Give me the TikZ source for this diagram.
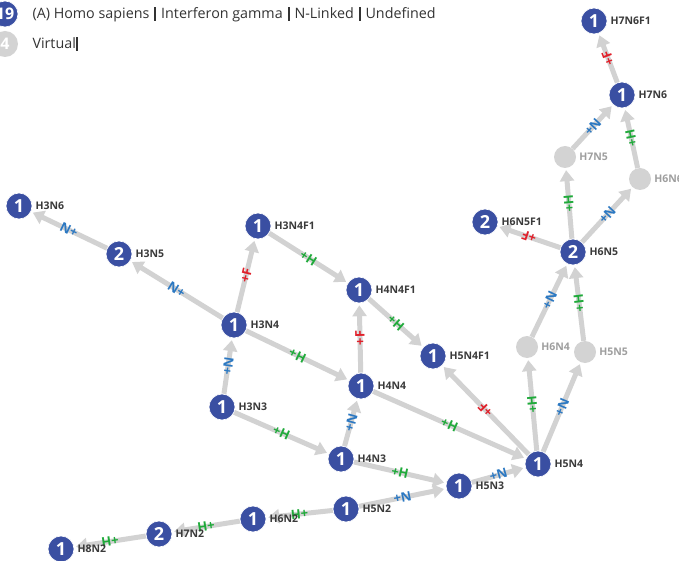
\documentclass[tikz,border=0pt]{standalone}
\usepackage{fontspec}
\setmainfont{Open Sans}
\usetikzlibrary{arrows.meta,backgrounds}

\definecolor{glyblue}{HTML}{3A4FA2}
\definecolor{virtgray}{HTML}{D3D3D3}
\definecolor{edgegray}{HTML}{D2D2D2}
\definecolor{addN}{HTML}{2B78C2}
\definecolor{addH}{HTML}{1FAA3A}
\definecolor{addF}{HTML}{E0202A}
\definecolor{namegray}{HTML}{3A3A3A}
\definecolor{legtext}{HTML}{333333}

\newcommand{\legbar}{\hspace{0.35em}\rule[-2.5pt]{1.8pt}{14pt}\hspace{0.35em}}

\tikzset{
  glycan/.style={circle, fill=glyblue, draw=white, line width=0.6pt, minimum size=26pt, inner sep=0pt,
    text=white, font=\fontsize{18}{18}\selectfont\bfseries},
  virtual/.style={circle, fill=virtgray, minimum size=22pt, inner sep=0pt},
  gname/.style={text=namegray, font=\fontsize{10.5}{12}\selectfont\bfseries, inner sep=1pt},
  vname/.style={gname, text=black!38},
  link/.style={edgegray, line width=5pt, -{Triangle[length=11pt,width=14pt]}, shorten >=2pt},
  mono/.style={sloped, allow upside down, midway, inner sep=0pt, font=\fontsize{13}{13}\selectfont\bfseries},
  every label/.style={label distance=2pt},
}

\begin{document}
\begin{tikzpicture}[x=1pt, y=-1pt]
  \useasboundingbox (0,0) rectangle (679,561);

  % Legende
    \node[glycan, font=\fontsize{16}{16}\selectfont\bfseries] (legGly) at (5,14) {19};
    \node[anchor=west, text=legtext, font=\fontsize{14.3}{16}\selectfont] at (29,14)
      {(A) Homo sapiens\legbar Interferon gamma\legbar N-Linked\legbar Undefined};
    \node[virtual, text=white, font=\fontsize{16}{16}\selectfont\bfseries, minimum size=26pt] (legVirt) at (5,44) {4};
    \node[anchor=west, text=legtext, font=\fontsize{14.3}{16}\selectfont] at (29,44) {Virtual\rule[-2.5pt]{1.8pt}{14pt}};

  % Glykane
    \node[glycan, label={[gname]right:H7N6F1}] (H7N6F1) at (594,21) {1};
    \node[glycan, label={[gname]right:H7N6}] (H7N6) at (622,95) {1};
    \node[glycan, label={[gname]right:H6N5F1}] (H6N5F1) at (485,222) {2};
    \node[glycan, label={[gname]right:H6N5}] (H6N5) at (573,252) {2};
    \node[glycan, label={[gname]right:H3N6}] (H3N6) at (19,206) {1};
    \node[glycan, label={[gname]right:H3N5}] (H3N5) at (119,254) {2};
    \node[glycan, label={[gname]right:H3N4F1}] (H3N4F1) at (258,226) {1};
    \node[glycan, label={[gname]right:H4N4F1}] (H4N4F1) at (359,290) {1};
    \node[glycan, label={[gname]right:H3N4}] (H3N4) at (234,325) {1};
    \node[glycan, label={[gname]right:H5N4F1}] (H5N4F1) at (433,356) {1};
    \node[glycan, label={[gname]right:H4N4}] (H4N4) at (361,386) {1};
    \node[glycan, label={[gname]right:H3N3}] (H3N3) at (222,407) {1};
    \node[glycan, label={[gname]right:H4N3}] (H4N3) at (341,459) {1};
    \node[glycan, label={[gname]right:H5N4}] (H5N4) at (538,464) {1};
    \node[glycan, label={[gname]right:H5N3}] (H5N3) at (459,486) {1};
    \node[glycan, label={[gname]right:H5N2}] (H5N2) at (346,509) {1};
    \node[glycan, label={[gname]right:H6N2}] (H6N2) at (253,519) {1};
    \node[glycan, label={[gname]right:H7N2}] (H7N2) at (159,534) {2};
    \node[glycan, label={[gname]right:H8N2}] (H8N2) at (61,549) {1};

  % Virtuelle Glykane
    \node[virtual, label={[vname]right:H7N5}] (H7N5) at (565,157) {};
    \node[virtual, label={[vname]right:H6N6}] (H6N6) at (640,179) {};
    \node[virtual, label={[vname]right:H6N4}] (H6N4) at (527,347) {};
    \node[virtual, label={[vname]right:H5N5}] (H5N5) at (585,352) {};

  % Uebergaenge (unter den Knoten)
  \begin{pgfonlayer}{background}
    \draw[link] (H3N5) -- node[mono, addN] {+N} (H3N6);
    \draw[link] (H3N4) -- node[mono, addN] {+N} (H3N5);
    \draw[link] (H3N4) -- node[mono, addF] {+F} (H3N4F1);
    \draw[link] (H3N4F1) -- node[mono, addH] {+H} (H4N4F1);
    \draw[link] (H3N4) -- node[mono, addH] {+H} (H4N4);
    \draw[link] (H3N3) -- node[mono, addN] {+N} (H3N4);
    \draw[link] (H4N4) -- node[mono, addF] {+F} (H4N4F1);
    \draw[link] (H4N4F1) -- node[mono, addH] {+H} (H5N4F1);
    \draw[link] (H5N4) -- node[mono, addF] {+F} (H5N4F1);
    \draw[link] (H4N4) -- node[mono, addH] {+H} (H5N4);
    \draw[link] (H3N3) -- node[mono, addH] {+H} (H4N3);
    \draw[link] (H4N3) -- node[mono, addN] {+N} (H4N4);
    \draw[link] (H4N3) -- node[mono, addH] {+H} (H5N3);
    \draw[link] (H5N3) -- node[mono, addN] {+N} (H5N4);
    \draw[link] (H5N2) -- node[mono, addN] {+N} (H5N3);
    \draw[link] (H5N2) -- node[mono, addH] {+H} (H6N2);
    \draw[link] (H6N2) -- node[mono, addH] {+H} (H7N2);
    \draw[link] (H7N2) -- node[mono, addH] {+H} (H8N2);
    \draw[link] (H5N4) -- node[mono, addH] {+H} (H6N4);
    \draw[link] (H5N4) -- node[mono, addN] {+N} (H5N5);
    \draw[link] (H6N4) -- node[mono, addN] {+N} (H6N5);
    \draw[link] (H5N5) -- node[mono, addH] {+H} (H6N5);
    \draw[link] (H6N5) -- node[mono, addF] {+F} (H6N5F1);
    \draw[link] (H6N5) -- node[mono, addH] {+H} (H7N5);
    \draw[link] (H6N5) -- node[mono, addN] {+N} (H6N6);
    \draw[link] (H7N5) -- node[mono, addN] {+N} (H7N6);
    \draw[link] (H6N6) -- node[mono, addH] {+H} (H7N6);
    \draw[link] (H7N6) -- node[mono, addF] {+F} (H7N6F1);
  \end{pgfonlayer}
\end{tikzpicture}
\end{document}
